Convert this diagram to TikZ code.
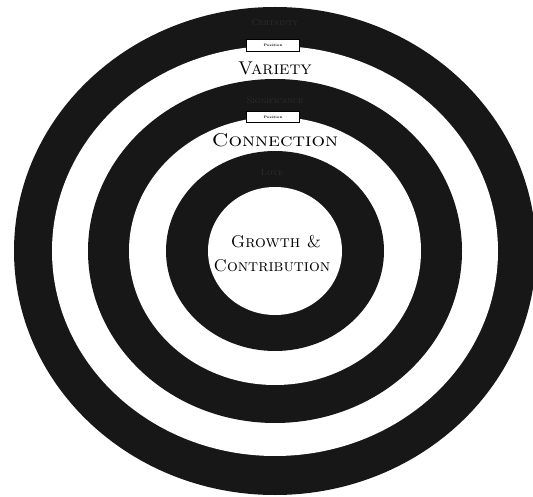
\documentclass[tikz,border=0pt]{standalone}
\usepackage{fontspec}
\begin{document}
\begin{tikzpicture}[x=1pt,y=-1pt,
  ringfill/.style={fill=ringc},
  holefill/.style={fill=white},
  need/.style={font=\fontsize{18.5}{20}\selectfont\scshape, text=black, inner sep=0pt},
  core/.style={font=\fontsize{17}{18}\selectfont\scshape, text=black, inner sep=0pt},
  hidden/.style={font=\fontsize{9}{10}\selectfont\scshape, text=black!82, inner sep=0pt},
  tag/.style={draw=black, line width=0.5pt, fill=white, minimum width=53pt, minimum height=12pt, inner sep=0pt, font=\fontsize{3.5}{4}\selectfont\bfseries}
]
\definecolor{ringc}{HTML}{171717}
\fill[white] (0,0) rectangle (533,497);
\useasboundingbox (0,0) rectangle (533,497);
% concentric rings
\fill[ringfill] (275,251) ellipse [x radius=261pt, y radius=244pt];
\fill[holefill] (275,251) ellipse [x radius=223pt, y radius=205pt];
\fill[ringfill] (275,251) ellipse [x radius=187pt, y radius=172pt];
\fill[holefill] (275,251) ellipse [x radius=146pt, y radius=134pt];
\fill[ringfill] (275,251) ellipse [x radius=109pt, y radius=100pt];
\fill[holefill] (275,251) ellipse [x radius=67pt, y radius=64pt];
% faint labels in the dark rings
\node[hidden] (certainty) at (275,22) {Certainty};
\node[hidden] (significance) at (275,100) {Significance};
\node[hidden] (love) at (272,172) {Love};
% small tags
\node[tag] (tag1) at (273,45) {Position};
\node[tag, minimum height=11pt] (tag2) at (273,117) {Position};
% main labels
\node[need] (variety) at (275,68) {Variety};
\node[need, xscale=1.15] (connection) at (275,140) {Connection};
\node[core] (growth) at (276,242) {Growth \&};
\node[core] (contribution) at (272,266) {Contribution};
\end{tikzpicture}
\end{document}
